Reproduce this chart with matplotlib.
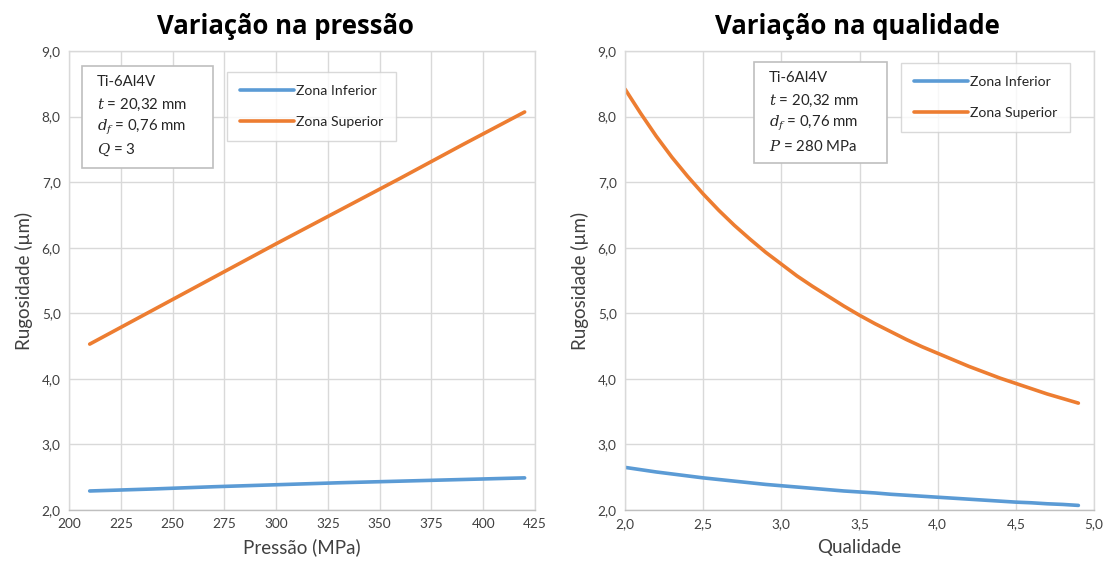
import matplotlib
matplotlib.use("Agg")
import matplotlib.pyplot as plt
from matplotlib.ticker import FixedLocator, FuncFormatter

plt.rcParams['font.family'] = ['Lato', 'DejaVu Sans']
plt.rcParams['mathtext.fontset'] = 'dejavuserif'

# ---- data: left panel (pressure) ----
pressao = [210, 240, 270, 300, 330, 360, 390, 420]
p_inferior = [2.29, 2.32, 2.355, 2.385, 2.415, 2.44, 2.465, 2.49]
p_superior = [4.53, 5.04, 5.55, 6.06, 6.56, 7.06, 7.57, 8.07]

# ---- data: right panel (quality) ----
qualidade = [2.0, 2.1, 2.2, 2.3, 2.4, 2.5, 2.6, 2.7, 2.8, 2.9, 3.0, 3.1, 3.2, 3.3, 3.4,
             3.5, 3.6, 3.7, 3.8, 3.9, 4.0, 4.1, 4.2, 4.3, 4.4, 4.5, 4.6, 4.7, 4.8, 4.9]
q_inferior = [2.65, 2.615, 2.58, 2.55, 2.52, 2.49, 2.465, 2.44, 2.415, 2.39, 2.37, 2.35,
              2.33, 2.31, 2.29, 2.275, 2.26, 2.24, 2.225, 2.21, 2.195, 2.18, 2.165, 2.15,
              2.135, 2.12, 2.11, 2.095, 2.085, 2.07]
q_superior = [8.42, 8.05, 7.70, 7.38, 7.09, 6.82, 6.57, 6.34, 6.13, 5.93, 5.75, 5.57,
              5.41, 5.26, 5.11, 4.97, 4.84, 4.72, 4.60, 4.49, 4.39, 4.29, 4.19, 4.10,
              4.01, 3.93, 3.85, 3.77, 3.70, 3.63]

left_xticks = [200, 225, 250, 275, 300, 325, 350, 375, 400, 425]
right_xticks = [2.0, 2.5, 3.0, 3.5, 4.0, 4.5, 5.0]
yticks = [2.0, 3.0, 4.0, 5.0, 6.0, 7.0, 8.0, 9.0]

blue = '#5B9BD5'
orange = '#ED7D31'
grid_c = '#D9D9D9'
text_c = '#404040'

W, H = 1105, 563
fig = plt.figure(figsize=(W / 100, H / 100), dpi=100)

def fx(px):
    return px / W

def fy(py):
    return 1 - py / H

comma = FuncFormatter(lambda v, p: f"{v:.1f}".replace('.', ','))

def style(ax, xticks, xlim, xfmt):
    ax.set_xlim(*xlim)
    ax.set_ylim(2.0, 9.0)
    ax.xaxis.set_major_locator(FixedLocator(xticks))
    ax.yaxis.set_major_locator(FixedLocator(yticks))
    ax.xaxis.set_major_formatter(xfmt)
    ax.yaxis.set_major_formatter(comma)
    ax.grid(True, color=grid_c, linewidth=1.0)
    ax.set_axisbelow(True)
    for s in ax.spines.values():
        s.set_color(grid_c)
        s.set_linewidth(1.0)
    ax.spines['bottom'].set_color('#BFBFBF')
    ax.tick_params(length=0, labelsize=9.8, colors=text_c, pad=6)
    ax.set_ylabel('Rugosidade (µm)', fontsize=13.5, color=text_c, labelpad=6)

# left panel
ax1 = fig.add_axes([fx(69), fy(510), fx(535 - 69), (510 - 51) / H])
ax1.plot(pressao, p_inferior, color=blue, lw=2.6, label='Zona Inferior', solid_capstyle='round')
ax1.plot(pressao, p_superior, color=orange, lw=2.6, label='Zona Superior', solid_capstyle='round')
style(ax1, left_xticks, (200, 425), FuncFormatter(lambda v, p: f"{int(v)}"))
ax1.set_xlabel('Pressão (MPa)', fontsize=13.5, color=text_c, labelpad=6)

# right panel
ax2 = fig.add_axes([fx(625), fy(510), fx(1094 - 625), (510 - 51) / H])
ax2.plot(qualidade, q_inferior, color=blue, lw=2.6, label='Zona Inferior', solid_capstyle='round')
ax2.plot(qualidade, q_superior, color=orange, lw=2.6, label='Zona Superior', solid_capstyle='round')
style(ax2, right_xticks, (2.0, 5.0), comma)
ax2.set_xlabel('Qualidade', fontsize=13.5, color=text_c, labelpad=6)

# titles
fig.text(fx(285), fy(27), 'Variação na pressão', ha='center', va='center',
         fontsize=18.5, fontweight='bold', color='black', family=['Open Sans', 'DejaVu Sans'])
fig.text(fx(857), fy(27), 'Variação na qualidade', ha='center', va='center',
         fontsize=18.5, fontweight='bold', color='black', family=['Open Sans', 'DejaVu Sans'])

# info boxes
def info_box(x0, y0, x1, y1, lines):
    rect = plt.Rectangle((fx(x0), fy(y1)), fx(x1 - x0), (y1 - y0) / H,
                         transform=fig.transFigure, facecolor='white',
                         edgecolor='#BFBFBF', linewidth=1.2, zorder=5)
    fig.add_artist(rect)
    for i, ln in enumerate(lines):
        fig.text(fx(x0 + 15), fy(y0 + 16 + i * 22.7), ln, ha='left', va='center',
                 fontsize=10.8, color='#262626', zorder=6)

info_box(82, 66, 213, 168, ['Ti-6Al4V', r'$t$ = 20,32 mm', r'$d_f$ = 0,76 mm', r'$Q$ = 3'])
info_box(754, 62, 887, 163, ['Ti-6Al4V', r'$t$ = 20,32 mm', r'$d_f$ = 0,76 mm', r'$P$ = 280 MPa'])

# legends
for ax, (x0, y0) in ((ax1, (227, 72)), (ax2, (901, 63))):
    leg = ax.legend(loc='upper left', bbox_to_anchor=(fx(x0), fy(y0)),
                    bbox_transform=fig.transFigure, frameon=True, fancybox=False,
                    edgecolor='#D0D0D0', fontsize=10.1, handlelength=3.9,
                    handletextpad=0.15, labelspacing=1.38, borderpad=0.9,
                    borderaxespad=0)
    leg.get_frame().set_linewidth(1.0)
    for t in leg.get_texts():
        t.set_color('#262626')

fig.savefig('out.png', dpi=100)
